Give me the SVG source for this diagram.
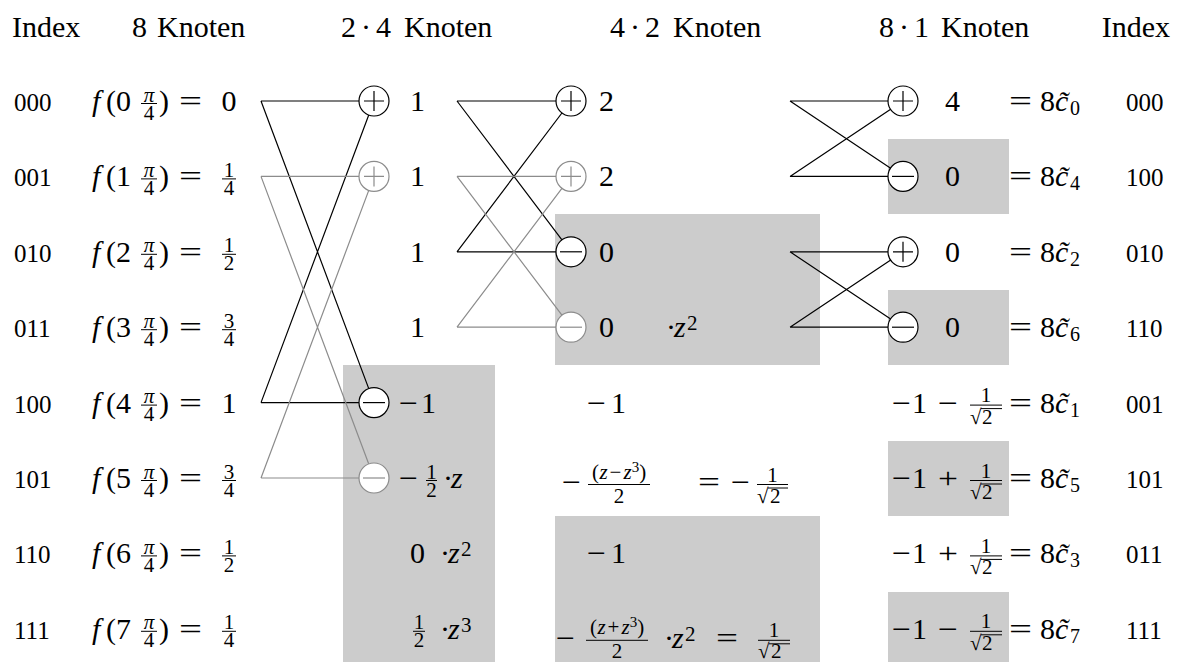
<svg xmlns="http://www.w3.org/2000/svg" width="1183" height="662" viewBox="0 0 1183 662">
<rect width="1183" height="662" fill="#fff"/>
<g id="boxes" fill="#cccccc">
<rect x="343" y="365" width="152" height="297"/>
<rect x="555" y="214" width="265" height="151"/>
<rect x="555" y="516" width="265" height="146"/>
<rect x="888" y="139" width="121" height="75"/>
<rect x="888" y="290" width="121" height="75"/>
<rect x="888" y="441" width="121" height="75"/>
<rect x="888" y="592" width="121" height="70"/>
</g>
<g id="header" font-size="30">
<text font-family="Liberation Serif" x="12" y="37">Index</text>
<text font-family="Liberation Serif" x="132" y="37">8</text><text font-family="Liberation Serif" x="157" y="37">Knoten</text>
<text font-family="Liberation Serif" x="341" y="37">2</text><text font-family="Liberation Serif" x="361" y="37">·</text><text font-family="Liberation Serif" x="376" y="37">4</text><text font-family="Liberation Serif" x="404" y="37">Knoten</text>
<text font-family="Liberation Serif" x="610" y="37">4</text><text font-family="Liberation Serif" x="630" y="37">·</text><text font-family="Liberation Serif" x="645" y="37">2</text><text font-family="Liberation Serif" x="673" y="37">Knoten</text>
<text font-family="Liberation Serif" x="879" y="37">8</text><text font-family="Liberation Serif" x="899" y="37">·</text><text font-family="Liberation Serif" x="914" y="37">1</text><text font-family="Liberation Serif" x="941" y="37">Knoten</text>
<text font-family="Liberation Serif" x="1170" y="37" text-anchor="end">Index</text>
</g>
<g id="connectors" fill="none" stroke-width="1.2">
<path stroke="#000" d="M261 101H374M261 101L374 402.6M261 402.6H374M261 402.6L374 101"/>
<path stroke="#8c8c8c" d="M261 176.4H374M261 176.4L374 478M261 478H374M261 478L374 176.4"/>
<path stroke="#000" d="M457 101H571M457 101L571 251.8M457 251.8H571M457 251.8L571 101"/>
<path stroke="#8c8c8c" d="M457 176.4H571M457 176.4L571 327.2M457 327.2H571M457 327.2L571 176.4"/>
<path stroke="#000" d="M790 101H903M790 101L903 176.4M790 176.4H903M790 176.4L903 101"/>
<path stroke="#000" d="M790 251.8H903M790 251.8L903 327.2M790 327.2H903M790 327.2L903 251.8"/>
</g>
<g id="input-rows" font-size="30" stroke-width="1">
<g id="in0">
<text font-family="Liberation Serif" font-size="25" x="14" y="111">000</text>
<text font-family="Liberation Serif" font-style="italic" x="92" y="111">f</text><text font-family="Liberation Serif" x="106" y="111">(0</text><text font-family="Liberation Serif" x="159" y="111">)</text>
<text font-family="Liberation Serif" font-size="21" text-anchor="middle" font-style="italic" x="149" y="101.5">π</text><text font-family="Liberation Serif" font-size="21" text-anchor="middle" x="149" y="119.5">4</text><line stroke="#000" x1="141" y1="103.5" x2="157" y2="103.5"/>
<text font-family="Liberation Serif" x="179" y="111" textLength="23" lengthAdjust="spacingAndGlyphs">=</text>
<text font-family="Liberation Serif" text-anchor="middle" x="229" y="111">0</text>
</g>
<g id="in1">
<text font-family="Liberation Serif" font-size="25" x="14" y="186.4">001</text>
<text font-family="Liberation Serif" font-style="italic" x="92" y="186.4">f</text><text font-family="Liberation Serif" x="106" y="186.4">(1</text><text font-family="Liberation Serif" x="159" y="186.4">)</text>
<text font-family="Liberation Serif" font-size="21" text-anchor="middle" font-style="italic" x="149" y="176.9">π</text><text font-family="Liberation Serif" font-size="21" text-anchor="middle" x="149" y="194.9">4</text><line stroke="#000" x1="141" y1="178.9" x2="157" y2="178.9"/>
<text font-family="Liberation Serif" x="179" y="186.4" textLength="23" lengthAdjust="spacingAndGlyphs">=</text>
<text font-family="Liberation Serif" font-size="21" text-anchor="middle" x="229" y="176.9">1</text><text font-family="Liberation Serif" font-size="21" text-anchor="middle" x="229" y="194.9">4</text><line stroke="#000" x1="222" y1="178.9" x2="236" y2="178.9"/>
</g>
<g id="in2">
<text font-family="Liberation Serif" font-size="25" x="14" y="261.8">010</text>
<text font-family="Liberation Serif" font-style="italic" x="92" y="261.8">f</text><text font-family="Liberation Serif" x="106" y="261.8">(2</text><text font-family="Liberation Serif" x="159" y="261.8">)</text>
<text font-family="Liberation Serif" font-size="21" text-anchor="middle" font-style="italic" x="149" y="252.3">π</text><text font-family="Liberation Serif" font-size="21" text-anchor="middle" x="149" y="270.3">4</text><line stroke="#000" x1="141" y1="254.3" x2="157" y2="254.3"/>
<text font-family="Liberation Serif" x="179" y="261.8" textLength="23" lengthAdjust="spacingAndGlyphs">=</text>
<text font-family="Liberation Serif" font-size="21" text-anchor="middle" x="229" y="252.3">1</text><text font-family="Liberation Serif" font-size="21" text-anchor="middle" x="229" y="270.3">2</text><line stroke="#000" x1="222" y1="254.3" x2="236" y2="254.3"/>
</g>
<g id="in3">
<text font-family="Liberation Serif" font-size="25" x="14" y="337.2">011</text>
<text font-family="Liberation Serif" font-style="italic" x="92" y="337.2">f</text><text font-family="Liberation Serif" x="106" y="337.2">(3</text><text font-family="Liberation Serif" x="159" y="337.2">)</text>
<text font-family="Liberation Serif" font-size="21" text-anchor="middle" font-style="italic" x="149" y="327.7">π</text><text font-family="Liberation Serif" font-size="21" text-anchor="middle" x="149" y="345.7">4</text><line stroke="#000" x1="141" y1="329.7" x2="157" y2="329.7"/>
<text font-family="Liberation Serif" x="179" y="337.2" textLength="23" lengthAdjust="spacingAndGlyphs">=</text>
<text font-family="Liberation Serif" font-size="21" text-anchor="middle" x="229" y="327.7">3</text><text font-family="Liberation Serif" font-size="21" text-anchor="middle" x="229" y="345.7">4</text><line stroke="#000" x1="222" y1="329.7" x2="236" y2="329.7"/>
</g>
<g id="in4">
<text font-family="Liberation Serif" font-size="25" x="14" y="412.6">100</text>
<text font-family="Liberation Serif" font-style="italic" x="92" y="412.6">f</text><text font-family="Liberation Serif" x="106" y="412.6">(4</text><text font-family="Liberation Serif" x="159" y="412.6">)</text>
<text font-family="Liberation Serif" font-size="21" text-anchor="middle" font-style="italic" x="149" y="403.1">π</text><text font-family="Liberation Serif" font-size="21" text-anchor="middle" x="149" y="421.1">4</text><line stroke="#000" x1="141" y1="405.1" x2="157" y2="405.1"/>
<text font-family="Liberation Serif" x="179" y="412.6" textLength="23" lengthAdjust="spacingAndGlyphs">=</text>
<text font-family="Liberation Serif" text-anchor="middle" x="229" y="412.6">1</text>
</g>
<g id="in5">
<text font-family="Liberation Serif" font-size="25" x="14" y="488">101</text>
<text font-family="Liberation Serif" font-style="italic" x="92" y="488">f</text><text font-family="Liberation Serif" x="106" y="488">(5</text><text font-family="Liberation Serif" x="159" y="488">)</text>
<text font-family="Liberation Serif" font-size="21" text-anchor="middle" font-style="italic" x="149" y="478.5">π</text><text font-family="Liberation Serif" font-size="21" text-anchor="middle" x="149" y="496.5">4</text><line stroke="#000" x1="141" y1="480.5" x2="157" y2="480.5"/>
<text font-family="Liberation Serif" x="179" y="488" textLength="23" lengthAdjust="spacingAndGlyphs">=</text>
<text font-family="Liberation Serif" font-size="21" text-anchor="middle" x="229" y="478.5">3</text><text font-family="Liberation Serif" font-size="21" text-anchor="middle" x="229" y="496.5">4</text><line stroke="#000" x1="222" y1="480.5" x2="236" y2="480.5"/>
</g>
<g id="in6">
<text font-family="Liberation Serif" font-size="25" x="14" y="563.4">110</text>
<text font-family="Liberation Serif" font-style="italic" x="92" y="563.4">f</text><text font-family="Liberation Serif" x="106" y="563.4">(6</text><text font-family="Liberation Serif" x="159" y="563.4">)</text>
<text font-family="Liberation Serif" font-size="21" text-anchor="middle" font-style="italic" x="149" y="553.9">π</text><text font-family="Liberation Serif" font-size="21" text-anchor="middle" x="149" y="571.9">4</text><line stroke="#000" x1="141" y1="555.9" x2="157" y2="555.9"/>
<text font-family="Liberation Serif" x="179" y="563.4" textLength="23" lengthAdjust="spacingAndGlyphs">=</text>
<text font-family="Liberation Serif" font-size="21" text-anchor="middle" x="229" y="553.9">1</text><text font-family="Liberation Serif" font-size="21" text-anchor="middle" x="229" y="571.9">2</text><line stroke="#000" x1="222" y1="555.9" x2="236" y2="555.9"/>
</g>
<g id="in7">
<text font-family="Liberation Serif" font-size="25" x="14" y="638.8">111</text>
<text font-family="Liberation Serif" font-style="italic" x="92" y="638.8">f</text><text font-family="Liberation Serif" x="106" y="638.8">(7</text><text font-family="Liberation Serif" x="159" y="638.8">)</text>
<text font-family="Liberation Serif" font-size="21" text-anchor="middle" font-style="italic" x="149" y="629.3">π</text><text font-family="Liberation Serif" font-size="21" text-anchor="middle" x="149" y="647.3">4</text><line stroke="#000" x1="141" y1="631.3" x2="157" y2="631.3"/>
<text font-family="Liberation Serif" x="179" y="638.8" textLength="23" lengthAdjust="spacingAndGlyphs">=</text>
<text font-family="Liberation Serif" font-size="21" text-anchor="middle" x="229" y="629.3">1</text><text font-family="Liberation Serif" font-size="21" text-anchor="middle" x="229" y="647.3">4</text><line stroke="#000" x1="222" y1="631.3" x2="236" y2="631.3"/>
</g>
</g>
<g id="stage1" font-size="30" stroke-width="1.2">
<g id="s1n0"><circle fill="#fff" stroke="#000" cx="374" cy="101" r="15"/><path stroke="#000" d="M364 101H384M374 91V111"/><text font-family="Liberation Serif" x="410" y="111">1</text></g>
<g id="s1n1"><circle fill="#fff" stroke="#8c8c8c" cx="374" cy="176.4" r="15"/><path stroke="#8c8c8c" d="M364 176.4H384M374 166.4V186.4"/><text font-family="Liberation Serif" x="410" y="186.4">1</text></g>
<g id="s1n2"><text font-family="Liberation Serif" x="410" y="261.8">1</text></g>
<g id="s1n3"><text font-family="Liberation Serif" x="410" y="337.2">1</text></g>
<g id="s1n4"><circle fill="#fff" stroke="#000" cx="374" cy="402.6" r="15"/><path stroke="#000" d="M363 402.6H385"/><text font-family="Liberation Serif" x="399" y="412.6" textLength="19" lengthAdjust="spacingAndGlyphs">−</text><text font-family="Liberation Serif" x="421" y="412.6">1</text></g>
<g id="s1n5"><circle fill="#fff" stroke="#8c8c8c" cx="374" cy="478" r="15"/><path stroke="#8c8c8c" d="M363 478H385"/><text font-family="Liberation Serif" x="399" y="488" textLength="19" lengthAdjust="spacingAndGlyphs">−</text>
<text font-family="Liberation Serif" font-size="21" text-anchor="middle" x="431.5" y="478.5">1</text><text font-family="Liberation Serif" font-size="21" text-anchor="middle" x="431.5" y="496.5">2</text><line stroke="#000" stroke-width="1" x1="426" y1="480.5" x2="437" y2="480.5"/>
<text font-family="Liberation Serif" x="443" y="488">·</text><text font-family="Liberation Serif" font-style="italic" x="451" y="488">z</text></g>
<g id="s1n6"><text font-family="Liberation Serif" x="410" y="563.4">0</text><text font-family="Liberation Serif" x="440" y="563.4">·</text><text font-family="Liberation Serif" font-style="italic" x="448" y="563.4">z</text><text font-family="Liberation Serif" font-size="21" x="461" y="556.4">2</text></g>
<g id="s1n7"><text font-family="Liberation Serif" font-size="21" text-anchor="middle" x="419" y="629.3">1</text><text font-family="Liberation Serif" font-size="21" text-anchor="middle" x="419" y="647.3">2</text><line stroke="#000" stroke-width="1" x1="413" y1="631.3" x2="425" y2="631.3"/>
<text font-family="Liberation Serif" x="440" y="638.8">·</text><text font-family="Liberation Serif" font-style="italic" x="448" y="638.8">z</text><text font-family="Liberation Serif" font-size="21" x="461" y="631.8">3</text></g>
</g>
<g id="stage2" font-size="30" stroke-width="1.2">
<g id="s2n0"><circle fill="#fff" stroke="#000" cx="571" cy="101" r="15"/><path stroke="#000" d="M561 101H581M571 91V111"/><text font-family="Liberation Serif" x="599" y="111">2</text></g>
<g id="s2n1"><circle fill="#fff" stroke="#8c8c8c" cx="571" cy="176.4" r="15"/><path stroke="#8c8c8c" d="M561 176.4H581M571 166.4V186.4"/><text font-family="Liberation Serif" x="599" y="186.4">2</text></g>
<g id="s2n2"><circle fill="#fff" stroke="#000" cx="571" cy="251.8" r="15"/><path stroke="#000" d="M560 251.8H582"/><text font-family="Liberation Serif" x="599" y="261.8">0</text></g>
<g id="s2n3"><circle fill="#fff" stroke="#8c8c8c" cx="571" cy="327.2" r="15"/><path stroke="#8c8c8c" d="M560 327.2H582"/><text font-family="Liberation Serif" x="599" y="337.2">0</text>
<text font-family="Liberation Serif" x="666" y="337.2">·</text><text font-family="Liberation Serif" font-style="italic" x="674" y="337.2">z</text><text font-family="Liberation Serif" font-size="21" x="687" y="330.2">2</text></g>
<g id="s2n4"><text font-family="Liberation Serif" x="587" y="412.6" textLength="19" lengthAdjust="spacingAndGlyphs">−</text><text font-family="Liberation Serif" x="611" y="412.6">1</text></g>
<g id="s2n5">
<text font-family="Liberation Serif" x="562" y="492" textLength="19" lengthAdjust="spacingAndGlyphs">−</text>
<text font-family="Liberation Serif" font-size="21" x="592" y="478.5">(</text><text font-family="Liberation Serif" font-size="21" font-style="italic" x="599.5" y="478.5">z</text><text font-family="Liberation Serif" font-size="21" x="609.5" y="478.5">−</text><text font-family="Liberation Serif" font-size="21" font-style="italic" x="623.5" y="478.5">z</text><text font-family="Liberation Serif" font-size="15" x="631.7" y="471.5">3</text><text font-family="Liberation Serif" font-size="21" x="639.2" y="478.5">)</text>
<line stroke="#000" stroke-width="1" x1="588" y1="484.5" x2="650" y2="484.5"/><text font-family="Liberation Serif" font-size="21" text-anchor="middle" x="619" y="502.5">2</text>
<text font-family="Liberation Serif" x="698" y="492" textLength="22" lengthAdjust="spacingAndGlyphs">=</text>
<text font-family="Liberation Serif" x="731" y="492" textLength="19" lengthAdjust="spacingAndGlyphs">−</text>
<text font-family="Liberation Serif" font-size="21" text-anchor="middle" x="772.5" y="481.5">1</text><line stroke="#000" stroke-width="1" x1="757" y1="484.5" x2="788" y2="484.5"/>
<text font-family="Liberation Serif" font-size="21" x="757" y="502.5">√</text><text font-family="Liberation Serif" font-size="21" x="770" y="502.5">2</text><line stroke="#000" stroke-width="1" x1="768" y1="488" x2="788" y2="488"/>
</g>
<g id="s2n6"><text font-family="Liberation Serif" x="587" y="563.4" textLength="19" lengthAdjust="spacingAndGlyphs">−</text><text font-family="Liberation Serif" x="611" y="563.4">1</text></g>
<g id="s2n7">
<text font-family="Liberation Serif" x="556" y="647.8" textLength="19" lengthAdjust="spacingAndGlyphs">−</text>
<text font-family="Liberation Serif" font-size="21" x="590" y="634.3">(</text><text font-family="Liberation Serif" font-size="21" font-style="italic" x="597.5" y="634.3">z</text><text font-family="Liberation Serif" font-size="21" x="607.5" y="634.3">+</text><text font-family="Liberation Serif" font-size="21" font-style="italic" x="621.5" y="634.3">z</text><text font-family="Liberation Serif" font-size="15" x="629.7" y="627.3">3</text><text font-family="Liberation Serif" font-size="21" x="637.2" y="634.3">)</text>
<line stroke="#000" stroke-width="1" x1="586" y1="640.3" x2="648" y2="640.3"/><text font-family="Liberation Serif" font-size="21" text-anchor="middle" x="617" y="658.3">2</text>
<text font-family="Liberation Serif" x="664" y="647.8">·</text><text font-family="Liberation Serif" font-style="italic" x="672" y="647.8">z</text><text font-family="Liberation Serif" font-size="21" x="685" y="640.8">2</text>
<text font-family="Liberation Serif" x="716" y="647.8" textLength="22" lengthAdjust="spacingAndGlyphs">=</text>
<text font-family="Liberation Serif" font-size="21" text-anchor="middle" x="774" y="637.3">1</text><line stroke="#000" stroke-width="1" x1="758" y1="640.3" x2="790" y2="640.3"/>
<text font-family="Liberation Serif" font-size="21" x="758" y="658.3">√</text><text font-family="Liberation Serif" font-size="21" x="771" y="658.3">2</text><line stroke="#000" stroke-width="1" x1="769" y1="643.8" x2="790" y2="643.8"/>
</g>
</g>
<g id="stage3" font-size="30" stroke-width="1.2">
<g id="s3n0"><circle fill="#fff" stroke="#000" cx="903" cy="101" r="15"/><path stroke="#000" d="M893 101H913M903 91V111"/><text font-family="Liberation Serif" x="945" y="111">4</text></g>
<g id="s3n1"><circle fill="#fff" stroke="#000" cx="903" cy="176.4" r="15"/><path stroke="#000" d="M892 176.4H914"/><text font-family="Liberation Serif" x="945" y="186.4">0</text></g>
<g id="s3n2"><circle fill="#fff" stroke="#000" cx="903" cy="251.8" r="15"/><path stroke="#000" d="M893 251.8H913M903 241.8V261.8"/><text font-family="Liberation Serif" x="945" y="261.8">0</text></g>
<g id="s3n3"><circle fill="#fff" stroke="#000" cx="903" cy="327.2" r="15"/><path stroke="#000" d="M892 327.2H914"/><text font-family="Liberation Serif" x="945" y="337.2">0</text></g>
<g id="s3n4" stroke-width="1"><text font-family="Liberation Serif" x="892" y="412.6" textLength="19" lengthAdjust="spacingAndGlyphs">−</text><text font-family="Liberation Serif" x="912" y="412.6">1</text><text font-family="Liberation Serif" x="938" y="412.6" textLength="20" lengthAdjust="spacingAndGlyphs">−</text>
<text font-family="Liberation Serif" font-size="21" text-anchor="middle" x="986" y="402.1">1</text><line stroke="#000" x1="970" y1="405.1" x2="1002" y2="405.1"/><text font-family="Liberation Serif" font-size="21" x="970" y="423.6">√</text><text font-family="Liberation Serif" font-size="21" x="982" y="423.6">2</text><line stroke="#000" x1="981" y1="408.6" x2="1002" y2="408.6"/></g>
<g id="s3n5" stroke-width="1"><text font-family="Liberation Serif" x="892" y="488" textLength="19" lengthAdjust="spacingAndGlyphs">−</text><text font-family="Liberation Serif" x="912" y="488">1</text><text font-family="Liberation Serif" x="938" y="488" textLength="20" lengthAdjust="spacingAndGlyphs">+</text>
<text font-family="Liberation Serif" font-size="21" text-anchor="middle" x="986" y="477.5">1</text><line stroke="#000" x1="970" y1="480.5" x2="1002" y2="480.5"/><text font-family="Liberation Serif" font-size="21" x="970" y="499">√</text><text font-family="Liberation Serif" font-size="21" x="982" y="499">2</text><line stroke="#000" x1="981" y1="484" x2="1002" y2="484"/></g>
<g id="s3n6" stroke-width="1"><text font-family="Liberation Serif" x="892" y="563.4" textLength="19" lengthAdjust="spacingAndGlyphs">−</text><text font-family="Liberation Serif" x="912" y="563.4">1</text><text font-family="Liberation Serif" x="938" y="563.4" textLength="20" lengthAdjust="spacingAndGlyphs">+</text>
<text font-family="Liberation Serif" font-size="21" text-anchor="middle" x="986" y="552.9">1</text><line stroke="#000" x1="970" y1="555.9" x2="1002" y2="555.9"/><text font-family="Liberation Serif" font-size="21" x="970" y="574.4">√</text><text font-family="Liberation Serif" font-size="21" x="982" y="574.4">2</text><line stroke="#000" x1="981" y1="559.4" x2="1002" y2="559.4"/></g>
<g id="s3n7" stroke-width="1"><text font-family="Liberation Serif" x="892" y="638.8" textLength="19" lengthAdjust="spacingAndGlyphs">−</text><text font-family="Liberation Serif" x="912" y="638.8">1</text><text font-family="Liberation Serif" x="938" y="638.8" textLength="20" lengthAdjust="spacingAndGlyphs">−</text>
<text font-family="Liberation Serif" font-size="21" text-anchor="middle" x="986" y="628.3">1</text><line stroke="#000" x1="970" y1="631.3" x2="1002" y2="631.3"/><text font-family="Liberation Serif" font-size="21" x="970" y="649.8">√</text><text font-family="Liberation Serif" font-size="21" x="982" y="649.8">2</text><line stroke="#000" x1="981" y1="634.8" x2="1002" y2="634.8"/></g>
</g>
<g id="outputs" font-size="30">
<g id="out0"><text font-family="Liberation Serif" x="1009" y="111" textLength="23" lengthAdjust="spacingAndGlyphs">=</text><text font-family="Liberation Serif" x="1040" y="111">8</text><text font-family="Liberation Serif" font-style="italic" x="1055" y="111">c&#x303;</text><text font-family="Liberation Serif" font-size="20" x="1070" y="115">0</text><text font-family="Liberation Serif" font-size="25" x="1126" y="111">000</text></g>
<g id="out1"><text font-family="Liberation Serif" x="1009" y="186.4" textLength="23" lengthAdjust="spacingAndGlyphs">=</text><text font-family="Liberation Serif" x="1040" y="186.4">8</text><text font-family="Liberation Serif" font-style="italic" x="1055" y="186.4">c&#x303;</text><text font-family="Liberation Serif" font-size="20" x="1070" y="190.4">4</text><text font-family="Liberation Serif" font-size="25" x="1126" y="186.4">100</text></g>
<g id="out2"><text font-family="Liberation Serif" x="1009" y="261.8" textLength="23" lengthAdjust="spacingAndGlyphs">=</text><text font-family="Liberation Serif" x="1040" y="261.8">8</text><text font-family="Liberation Serif" font-style="italic" x="1055" y="261.8">c&#x303;</text><text font-family="Liberation Serif" font-size="20" x="1070" y="265.8">2</text><text font-family="Liberation Serif" font-size="25" x="1126" y="261.8">010</text></g>
<g id="out3"><text font-family="Liberation Serif" x="1009" y="337.2" textLength="23" lengthAdjust="spacingAndGlyphs">=</text><text font-family="Liberation Serif" x="1040" y="337.2">8</text><text font-family="Liberation Serif" font-style="italic" x="1055" y="337.2">c&#x303;</text><text font-family="Liberation Serif" font-size="20" x="1070" y="341.2">6</text><text font-family="Liberation Serif" font-size="25" x="1126" y="337.2">110</text></g>
<g id="out4"><text font-family="Liberation Serif" x="1009" y="412.6" textLength="23" lengthAdjust="spacingAndGlyphs">=</text><text font-family="Liberation Serif" x="1040" y="412.6">8</text><text font-family="Liberation Serif" font-style="italic" x="1055" y="412.6">c&#x303;</text><text font-family="Liberation Serif" font-size="20" x="1070" y="416.6">1</text><text font-family="Liberation Serif" font-size="25" x="1126" y="412.6">001</text></g>
<g id="out5"><text font-family="Liberation Serif" x="1009" y="488" textLength="23" lengthAdjust="spacingAndGlyphs">=</text><text font-family="Liberation Serif" x="1040" y="488">8</text><text font-family="Liberation Serif" font-style="italic" x="1055" y="488">c&#x303;</text><text font-family="Liberation Serif" font-size="20" x="1070" y="492">5</text><text font-family="Liberation Serif" font-size="25" x="1126" y="488">101</text></g>
<g id="out6"><text font-family="Liberation Serif" x="1009" y="563.4" textLength="23" lengthAdjust="spacingAndGlyphs">=</text><text font-family="Liberation Serif" x="1040" y="563.4">8</text><text font-family="Liberation Serif" font-style="italic" x="1055" y="563.4">c&#x303;</text><text font-family="Liberation Serif" font-size="20" x="1070" y="567.4">3</text><text font-family="Liberation Serif" font-size="25" x="1126" y="563.4">011</text></g>
<g id="out7"><text font-family="Liberation Serif" x="1009" y="638.8" textLength="23" lengthAdjust="spacingAndGlyphs">=</text><text font-family="Liberation Serif" x="1040" y="638.8">8</text><text font-family="Liberation Serif" font-style="italic" x="1055" y="638.8">c&#x303;</text><text font-family="Liberation Serif" font-size="20" x="1070" y="642.8">7</text><text font-family="Liberation Serif" font-size="25" x="1126" y="638.8">111</text></g>
</g>
</svg>
